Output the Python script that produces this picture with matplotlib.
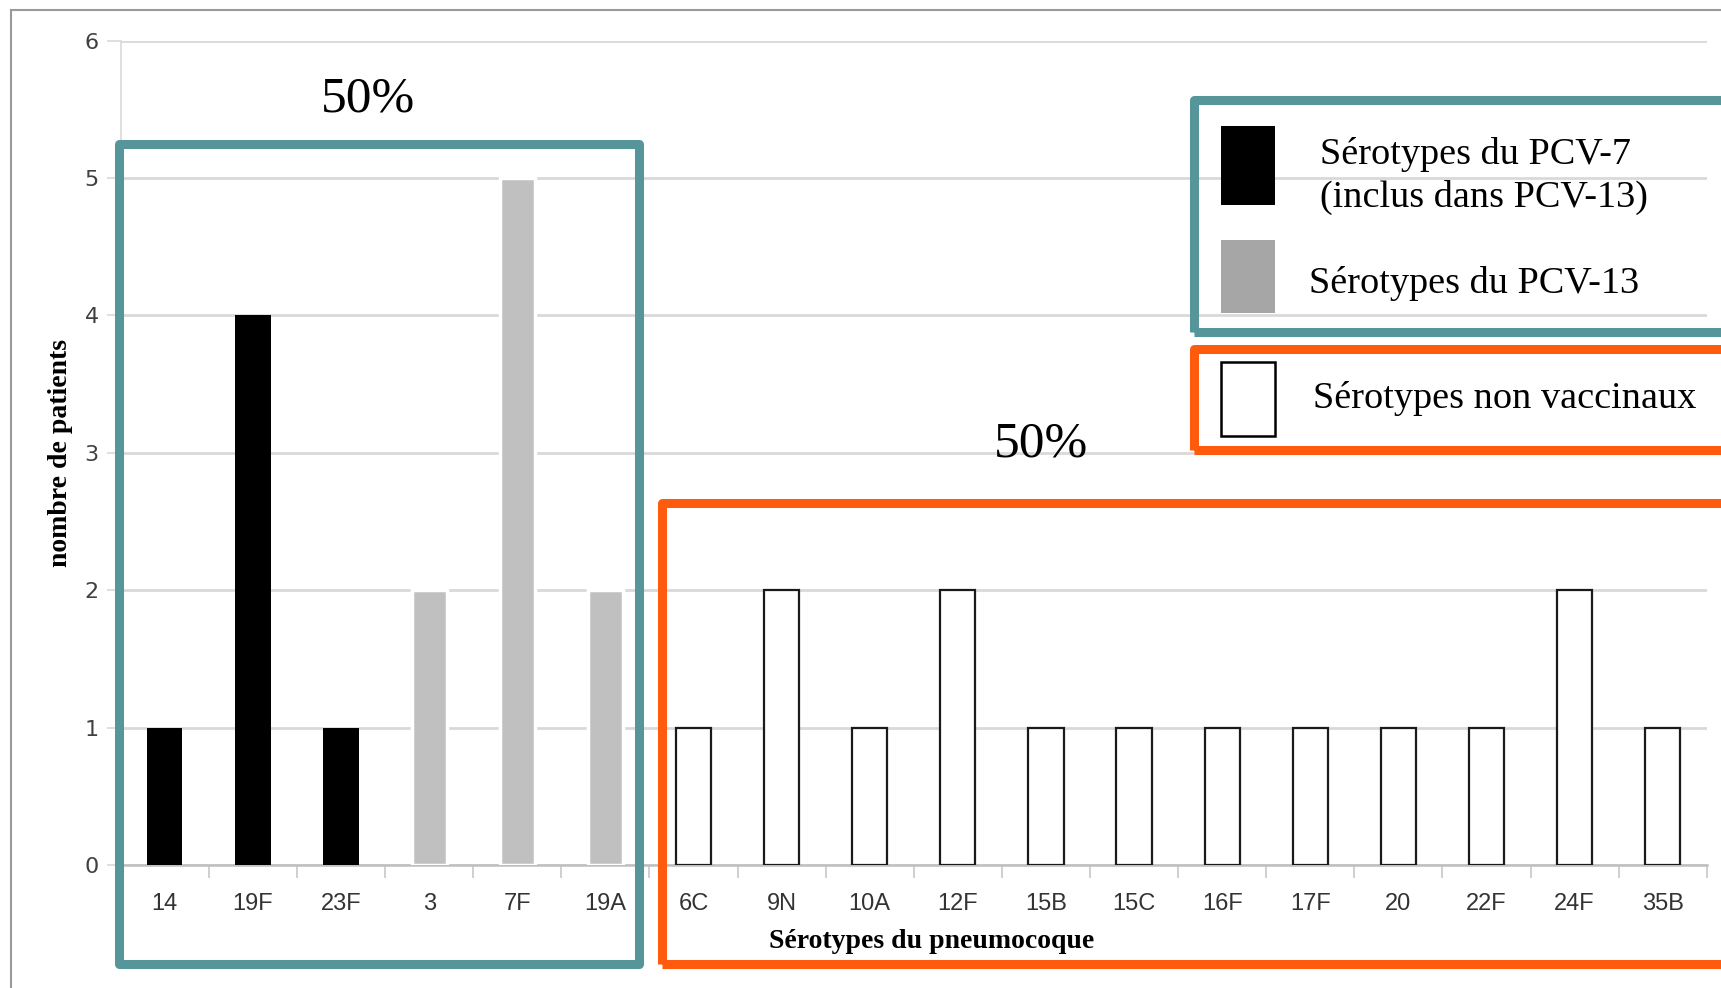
import numpy as np
import matplotlib
matplotlib.use('Agg')
import matplotlib.pyplot as plt
import matplotlib.patches as mpatches

# data
pcv7_labels = ['14', '19F', '23F']
pcv7_counts = [1, 4, 1]
pcv13_labels = ['3', '7F', '19A']
pcv13_counts = [2, 5, 2]
nonvacc_labels = ['6C', '9N', '10A', '12F', '15B', '15C', '16F', '17F', '20', '22F', '24F', '35B']
nonvacc_counts = [1, 2, 1, 2, 1, 1, 1, 1, 1, 1, 2, 1]
share_vacc = '50%'
share_nonvacc = '50%'
legend_labels = ['Sérotypes du PCV-7\n(inclus dans PCV-13)', 'Sérotypes du PCV-13', 'Sérotypes non vaccinaux']

labels = pcv7_labels + pcv13_labels + nonvacc_labels
n = len(labels)
x = np.arange(n)
x7 = x[:len(pcv7_labels)]
x13 = x[len(pcv7_labels):len(pcv7_labels) + len(pcv13_labels)]
xnv = x[len(pcv7_labels) + len(pcv13_labels):]

teal = '#56959a'
orange = '#ff5b0f'
serif = 'Liberation Serif'

fig = plt.figure(figsize=(17.21, 9.88), dpi=100)
ax = fig.add_axes([0.0702, 0.1244, 0.9215, 0.8345])

ax.bar(x7, pcv7_counts, width=0.4, color='black', zorder=3)
ax.bar(x13, pcv13_counts, width=0.4, color='#c0c0c0', edgecolor='white', linewidth=2.5, zorder=3)
ax.bar(xnv, nonvacc_counts, width=0.4, color='white', edgecolor='#1a1a1a', linewidth=1.6, zorder=3)

ax.set_xlim(-0.5, n - 0.5)
ax.set_ylim(0, 6)
ax.set_yticks(range(7))
ax.yaxis.grid(True, color='#d9d9d9', linewidth=2, zorder=0)
ax.tick_params(axis='y', length=10, width=1.2, color='#d9d9d9', labelcolor='#404040',
               labelsize=16, pad=6)

ax.set_xticks(np.arange(n + 1) - 0.5)
ax.set_xticklabels([])
ax.tick_params(axis='x', which='major', length=9, width=1.2, color='#c8c8c8')
ax.set_xticks(x, minor=True)
ax.set_xticklabels(labels, minor=True, fontsize=17, color='#333333', family='Liberation Sans')
ax.tick_params(axis='x', which='minor', length=0, pad=20)

for s in ['top', 'right']:
    ax.spines[s].set_visible(False)
ax.spines['bottom'].set_color('#bfbfbf')
ax.spines['bottom'].set_linewidth(1.8)
ax.spines['left'].set_color('#d9d9d9')
ax.spines['left'].set_linewidth(1.2)

ax.set_xlabel('Sérotypes du pneumocoque', family=serif, fontweight='bold', fontsize=20, labelpad=8)
ax.xaxis.set_label_coords(0.511, -0.078)
ax.set_ylabel('nombre de patients', family=serif, fontweight='bold', fontsize=20)
ax.yaxis.set_label_coords(-0.030, 0.5)

# outer frame of the original picture
fig.add_artist(mpatches.Rectangle((0.0064, -0.1), 1.2, 1.09, transform=fig.transFigure,
                                  facecolor='none', edgecolor='#9a9a9a', linewidth=1.5))

# group boxes
def box(x0, y0, x1, y1, color):
    fig.add_artist(mpatches.Rectangle((x0, y0), x1 - x0, y1 - y0, transform=fig.transFigure,
                                      facecolor='none', edgecolor=color, linewidth=6.5,
                                      joinstyle='round', zorder=5))

box(0.0689, 0.0245, 0.3712, 0.8540, teal)
box(0.3845, 0.0245, 1.02, 0.4905, orange)
box(0.6935, 0.6635, 1.02, 0.8990, teal)
box(0.6935, 0.5445, 1.02, 0.6465, orange)

fig.text(0.2136, 0.900, share_vacc, family=serif, fontsize=37, ha='center', va='center')
fig.text(0.6046, 0.550, share_nonvacc, family=serif, fontsize=37, ha='center', va='center')

# legend drawn by hand
patch_x, patch_w = 0.7092, 0.0319
fig.add_artist(mpatches.Rectangle((patch_x, 0.7922), patch_w, 0.080, transform=fig.transFigure,
                                  facecolor='black', edgecolor='none', zorder=6))
fig.add_artist(mpatches.Rectangle((patch_x, 0.6833), patch_w, 0.0733, transform=fig.transFigure,
                                  facecolor='#a6a6a6', edgecolor='none', zorder=6))
fig.add_artist(mpatches.Rectangle((patch_x, 0.5589), patch_w, 0.0744, transform=fig.transFigure,
                                  facecolor='white', edgecolor='black', linewidth=1.8, zorder=6))
fig.text(0.7672, 0.8222, legend_labels[0], family=serif, fontsize=27.5, ha='left', va='center',
         linespacing=1.3, zorder=6)
fig.text(0.7608, 0.7133, legend_labels[1], family=serif, fontsize=27.5, ha='left', va='center', zorder=6)
fig.text(0.7628, 0.5967, legend_labels[2], family=serif, fontsize=27.5, ha='left', va='center', zorder=6)

plt.savefig('out.png', dpi=100)
plt.close()
